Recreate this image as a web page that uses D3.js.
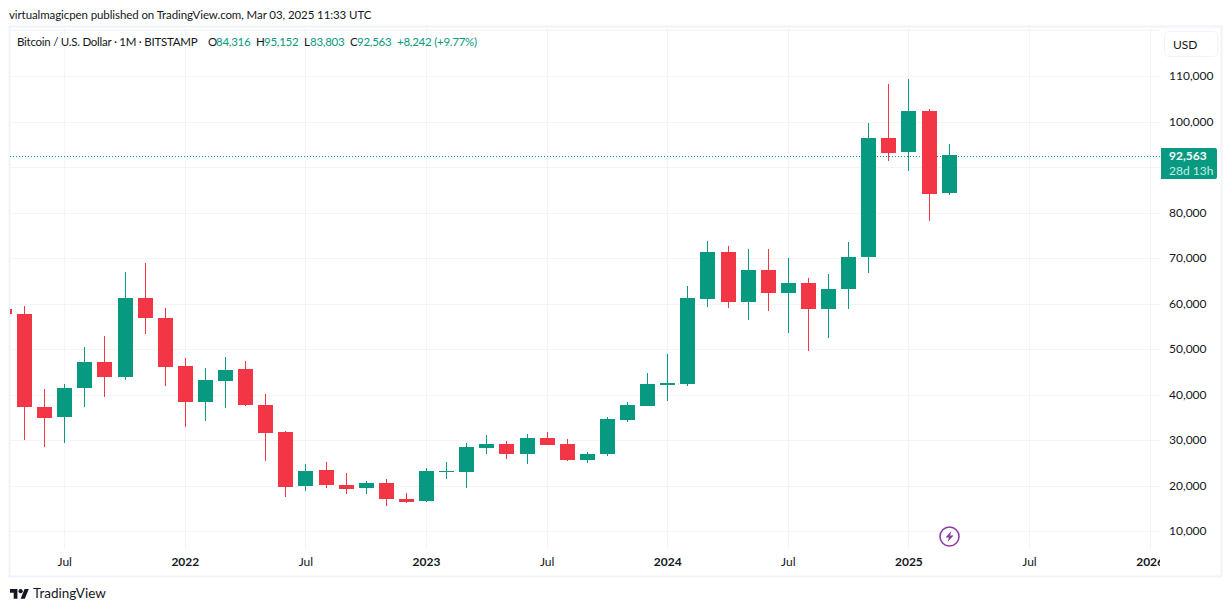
<!DOCTYPE html>
<html><head><meta charset="utf-8">
<script src="https://cdn.jsdelivr.net/npm/d3@7"></script>
<style>
html,body{margin:0;padding:0;background:#fff;overflow:hidden}
svg{display:block}
text{font-family:Lato,sans-serif;fill:#131722;font-size:12px}
.legend{font-size:11.5px;letter-spacing:-.25px}
.title{font-size:11.5px;letter-spacing:-.09px}
</style></head><body>
<svg id="c" width="1232" height="612"></svg>
<script>
const opens  = [58800,57700,37300,35000,41500,47100,43800,61300,56900,46200,38300,43100,45500,37700,31800,19800,23300,20100,19400,20500,17050,16500,23000,23000,28300,29200,27000,30450,29200,25700,26800,34400,37500,42150,42400,61000,71300,60400,67400,62400,64500,58800,63200,70200,96400,93200,102400,84316];
const highs  = [60000,59450,41200,42300,50450,52850,66900,68900,59000,48000,45800,48250,47350,40100,32000,24700,25150,22750,21000,21450,18350,23850,25150,29350,31100,29800,31300,31750,30200,27350,35050,38350,44700,48900,63850,73750,72650,72000,72000,70000,65600,66500,73500,99700,108250,109350,102750,95152];
const lows   = [57000,30000,28550,29400,37300,39500,43250,53350,41950,32950,34250,37100,37500,25450,17550,18850,19500,18200,18200,15500,16200,16350,21450,19450,26950,25800,24700,28800,25400,24950,26550,34000,37400,38550,41950,59250,59000,56350,58350,53500,49550,52400,58800,66700,91400,89200,78150,83803];
const closes = [57600,37200,34900,41450,47150,43700,61250,56850,46100,38250,43200,45450,37550,31600,19750,23200,19950,19250,20550,16900,16450,23150,23200,28450,29100,26950,30450,28900,25650,26950,34600,37700,42300,42550,61200,71300,60400,67400,62400,64500,58800,63200,70200,96400,93150,102300,84100,92563];
const priceTicks = [120000,110000,100000,90000,80000,70000,60000,50000,40000,30000,20000,10000];
const labelledPrices = [110000,100000,80000,70000,60000,50000,40000,30000,20000,10000];
const monthKeys = d3.range(58);           // band index: Apr 2021 .. Jan 2026
const axisMonths = [3,9,15,21,27,33,39,45,51,57];
const axisLabels = ["Jul","2022","Jul","2023","Jul","2024","Jul","2025","Jul","2026"];
const lastPrice = 92563;
const titleText = "virtualmagicpen published on TradingView.com, Mar 03, 2025 11:33 UTC";
const symbolText = "Bitcoin / U.S. Dollar · 1M · BITSTAMP";
const legendKeys = ["O","H","L","C"];
const legendVals = ["84,316","95,152","83,803","92,563"];
const legendChange = "+8,242 (+9.77%)";

const UP="#089981", DOWN="#F23645", GRID="#f3f4f8", FRAME="#f0f3fa";
const svg = d3.select("#c");
const x = d3.scaleBand().domain(monthKeys).range([-5.65,1160.15]);
const y = d3.scaleLinear().domain([10000,110000]).range([531,76]);
const cx = i => Math.floor(x(i)+x.bandwidth()/2);

svg.append("text").attr("x",9).attr("y",19).attr("class","title").text(titleText);
svg.append("rect").attr("x",9.5).attr("y",26.5).attr("width",1212).attr("height",550)
  .attr("fill","none").attr("stroke",FRAME).attr("stroke-width",2);

const defs = svg.append("defs");
defs.append("clipPath").attr("id","pane").append("rect").attr("x",10).attr("y",27).attr("width",1150).attr("height",522);
defs.append("clipPath").attr("id","time").append("rect").attr("x",10).attr("y",549).attr("width",1150).attr("height",27);

const pane = svg.append("g").attr("clip-path","url(#pane)");
pane.append("g").selectAll("line").data(axisMonths).join("line")
  .attr("x1",d=>cx(d)+.5).attr("x2",d=>cx(d)+.5).attr("y1",27).attr("y2",549).attr("stroke",GRID);
pane.append("g").selectAll("line").data(priceTicks).join("line")
  .attr("x1",10).attr("x2",1160).attr("y1",d=>Math.round(y(d))+.5).attr("y2",d=>Math.round(y(d))+.5).attr("stroke",GRID);

pane.append("line").attr("x1",10).attr("x2",1160).attr("y1",Math.round(y(lastPrice))+1.5).attr("y2",Math.round(y(lastPrice))+1.5)
  .attr("stroke",UP).attr("stroke-dasharray","1 2");

const idx = d3.range(opens.length);
const col = i => closes[i]>=opens[i]?UP:DOWN;
const bars = pane.append("g").attr("shape-rendering","crispEdges");
bars.selectAll(".w").data(idx).join("rect").attr("class","w")
  .attr("x",d=>cx(d)).attr("width",1)
  .attr("y",d=>y(highs[d])).attr("height",d=>y(lows[d])-y(highs[d])).attr("fill",col);
bars.selectAll(".b").data(idx).join("rect").attr("class","b")
  .attr("x",d=>cx(d)-7).attr("width",15)
  .attr("y",d=>Math.round(y(Math.max(opens[d],closes[d]))))
  .attr("height",d=>Math.max(1,Math.round(Math.abs(y(opens[d])-y(closes[d])))))
  .attr("fill",col);

// price axis
const ya = svg.append("g").attr("transform","translate(1160,0)")
  .call(d3.axisRight(y).tickValues(labelledPrices).tickSize(0).tickPadding(9).tickFormat(d3.format(",")));
ya.select(".domain").remove();
ya.selectAll("text").style("font-family","Lato,sans-serif").style("font-size","12px").attr("fill","#131722");

// time axis
const xa = svg.append("g").attr("clip-path","url(#time)");
const xAxis = xa.append("g").attr("transform","translate(0,550)")
  .call(d3.axisBottom(x).tickValues(axisMonths).tickSize(0).tickPadding(7).tickFormat((d,i)=>axisLabels[i]));
xAxis.select(".domain").remove();
xAxis.selectAll("text").style("font-family","Lato,sans-serif").style("font-size","12px")
  .style("font-weight",(d,i)=>axisLabels[i]==="Jul"?400:700).attr("fill","#131722");

// legend
svg.append("text").attr("class","legend").attr("x",17).attr("y",46).text(symbolText);
const keyX=[208,256,304,350], valX=[216,264,310,357];
legendKeys.forEach((k,i)=>{
  svg.append("text").attr("class","legend").attr("x",keyX[i]).attr("y",46).text(k);
  svg.append("text").attr("class","legend").attr("x",valX[i]).attr("y",46).style("fill",UP).text(legendVals[i]);
});
svg.append("text").attr("class","legend").attr("x",397).attr("y",46).style("fill",UP).text(legendChange);

// USD box
svg.append("rect").attr("x",1164.5).attr("y",31.5).attr("width",53).attr("height",25).attr("rx",4)
  .attr("fill","#fff").attr("stroke",FRAME);
svg.append("text").attr("x",1173).attr("y",49).text("USD");

// last price tag
svg.append("path").attr("d","M1161 148H1215a2 2 0 0 1 2 2V177a2 2 0 0 1 -2 2H1161Z").attr("fill",UP);
svg.append("text").attr("x",1169).attr("y",160).style("fill","#fff").style("font-weight",700).text(d3.format(",")(lastPrice));
svg.append("text").attr("x",1169).attr("y",175).style("fill","#c1ede3").text("28d 13h");

// lightning marker
const m = svg.append("g").attr("transform","translate(949.5,536.5)");
m.append("circle").attr("r",9.5).attr("fill","#fff").attr("stroke","#8e3aa8").attr("stroke-width",1.6);
m.append("path").attr("d","M1.8 -5.5L-4 1H-0.6L-1.8 5.5L4 -1H0.6Z").attr("fill","#8e3aa8");

// footer logo
const logo = svg.append("g").attr("transform","translate(10,587) scale(.53)").attr("fill","#131722");
logo.append("path").attr("d","M14 22H7V11H0V4h14v18zM28 22h-8l7.5-18h8L28 22z");
logo.append("circle").attr("cx",20).attr("cy",8).attr("r",4);
svg.append("text").attr("x",33).attr("y",598).style("font-size","13.5px").text("TradingView");
</script>
</body></html>
